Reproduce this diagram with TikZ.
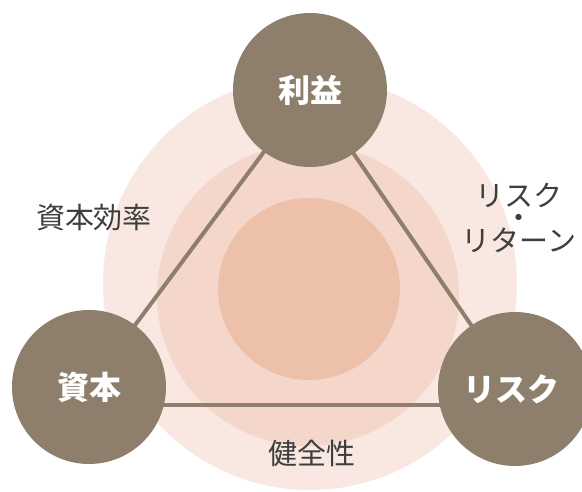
\documentclass[tikz,border=0pt]{standalone}
\usepackage{fontspec}
\newfontfamily\jp{Noto Sans CJK JP}
\usetikzlibrary{calc}
\definecolor{ringA}{RGB}{249,232,225}
\definecolor{ringB}{RGB}{244,214,203}
\definecolor{ringC}{RGB}{237,192,170}
\definecolor{nodebrown}{RGB}{141,127,108}
\definecolor{labelgrey}{RGB}{62,62,62}
\begin{document}
\begin{tikzpicture}[x=1pt,y=1pt,
  keynode/.style={circle,fill=nodebrown,minimum size=154pt,inner sep=0pt,text=white,
    font={\jp\bfseries\fontsize{32}{32}\selectfont}},
  sidelabel/.style={text=labelgrey,align=center,inner sep=0pt,
    font={\jp\fontsize{29}{22.5}\selectfont}},
  link/.style={draw=nodebrown,line width=4pt}]
\useasboundingbox (0,0) rectangle (582,492);
\clip (0,0) rectangle (582,492);
\fill[white] (0,0) rectangle (582,492);
% background rings
\fill[ringA] (310,209) circle[radius=207];
\fill[ringB] (308,197) circle[radius=151];
\fill[ringC] (309,203) circle[radius=91];
% coordinates of nodes
\coordinate (pT) at (310,402);
\coordinate (pL) at (89,105);
\coordinate (pR) at (515,103);
% connectors
\draw[link] (pT) -- (pL);
\draw[link] (pT) -- (pR);
\draw[link] ($(pL)+(0,-18)$) -- ($(pR)+(0,-16)$);
% key nodes
\node[keynode] (rieki) at (pT) {利益};
\node[keynode] (shihon) at (pL) {資本};
\node[keynode] (risk) at (pR) {\hspace*{-8pt}リスク};
% side labels
\node[sidelabel] (eff) at (94,274) {資本効率};
\node[sidelabel] (rr1) at (519,297) {リスク};
\node[sidelabel,text height=6pt,text depth=0pt] (rrdot) at (519,266) {・};
\node[sidelabel] (rr2) at (519,252) {リターン};
\node[sidelabel] (kenzen) at (312,39) {健全性};
\end{tikzpicture}
\end{document}
